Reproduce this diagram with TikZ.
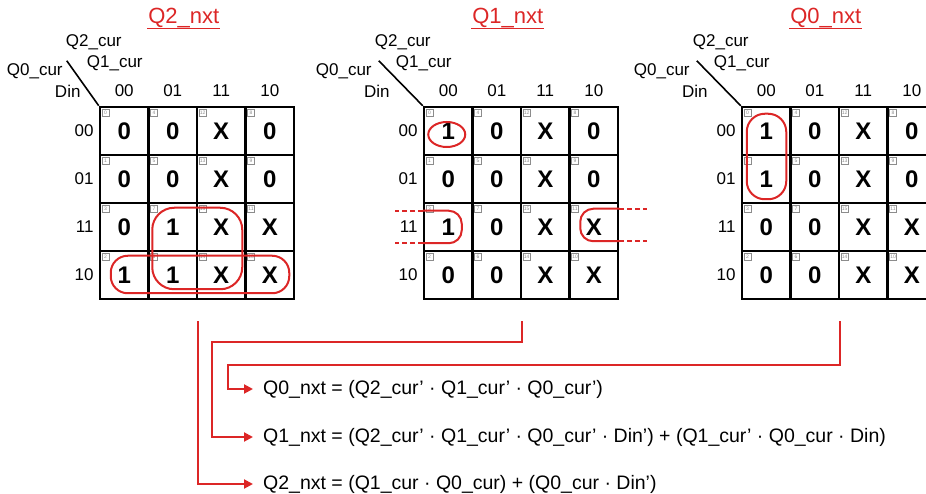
\documentclass[tikz,border=0pt]{standalone}
\usepackage{fontspec}
\setmainfont{Liberation Sans}
\usetikzlibrary{positioning, arrows.meta, calc}
\definecolor{loopred}{HTML}{DC2626}
\definecolor{idxgray}{HTML}{8C8C8C}
\tikzset{
  cell/.style  = {rectangle, draw=black, line width=2.5pt, minimum width=48.5pt,
                  minimum height=48pt, inner sep=0pt, font=\fontsize{24}{24}\selectfont\bfseries},
  idx/.style   = {rectangle, draw=idxgray, line width=0.6pt, inner sep=0.8pt, minimum size=7pt,
                  text=idxgray, font=\fontsize{5}{5}\selectfont, anchor=north west},
  axis/.style  = {font=\fontsize{17}{17}\selectfont, inner sep=1pt},
  title/.style = {font=\fontsize{22}{22}\selectfont, text=loopred, inner sep=1pt},
  grp/.style   = {draw=loopred, line width=2pt},
  wrap/.style  = {draw=loopred, line width=2pt, dash pattern=on 5pt off 3pt},
  feed/.style  = {draw=loopred, line width=2pt, -{Triangle[length=9pt, width=9pt]}},
  eq/.style    = {font=\fontsize{19.5}{20}\selectfont, anchor=west, inner xsep=10pt, inner ysep=2pt},
}

\begin{document}
\begin{tikzpicture}[x=1pt, y=-1pt]
\useasboundingbox (0,0) rectangle (926,494);

% Three K-maps: rows Q0_cur Din, columns Q2_cur Q1_cur
\foreach \m/\x/\sh/\ttl/\vals in {
    A/100/15/Q2/{0,0,X,0, 0,0,X,0, 0,1,X,X, 1,1,X,X},
    B/424/0/Q1/{1,0,X,0, 0,0,X,0, 1,0,X,X, 0,0,X,X},
    C/742/0/Q0/{1,0,X,0, 1,0,X,0, 0,0,X,X, 0,0,X,X}} {
  \foreach \v [count=\k from 0] in \vals {
    \pgfmathtruncatemacro{\r}{div(\k,4)}
    \pgfmathtruncatemacro{\c}{mod(\k,4)}
    \pgfmathtruncatemacro{\gc}{{0,1,3,2}[\c]}
    \pgfmathtruncatemacro{\gr}{{0,1,3,2}[\r]}
    \pgfmathtruncatemacro{\n}{4*\gc+\gr}
    \node (\m-\r-\c) [cell] at (\x+48.5*\c+24.25, 107+48*\r+24) {\v};
    \node (\m-\r-\c-i) [idx] at ($(\m-\r-\c.north west)+(3,3)$) {\n};
  }
  % corner with the variable names
  \coordinate (\m-o) at (\m-0-0.north west);
  \draw [line width=1.6pt] (\m-o) -- ++(-44+0.8*\sh,-45);
  \node (\m-q2) [axis] at ($(\m-o)+(-20+\sh,-63)$) {Q2\_cur};
  \node (\m-q1) [axis] at ($(\m-o)+(1+\sh,-42)$)   {Q1\_cur};
  \node (\m-q0) [axis] at ($(\m-o)+(-79+\sh,-34)$) {Q0\_cur};
  \node (\m-din) [axis] at ($(\m-o)+(-46+\sh,-14)$) {Din};
  \foreach \h [count=\j from 0] in {00,01,11,10} {
    \node (\m-col\j) [axis] at ($(\m-0-\j.north)+(0,-15)$) {\h};
    \node (\m-row\j) [axis, anchor=east] at ($(\m-\j-0.west)+(-4,0)$) {\h};
  }
  \node (\m-ttl) [title] at ($(\m-o)+(85,-88)$) {\ttl\_nxt};
  \draw [loopred, line width=1.3pt] (\m-ttl.south west) -- (\m-ttl.south east);
}

% Groups in Q2_nxt
\draw [grp, rounded corners=22pt] ($(A-2-1.north west)+(5,6)$) rectangle ($(A-3-2.south east)+(-4.5,-11)$);
\draw [grp, rounded corners=17pt] ($(A-3-0.north west)+(12,6)$) rectangle ($(A-3-3.south east)+(-6,-7)$);

% Groups in Q1_nxt, one of them wrapping round the sides
\draw [grp] ($(B-0-0)+(-1.5,3.5)$) ellipse [x radius=18.5, y radius=12.5];
\draw [grp, rounded corners=13pt] ($(B-2-0.north west)+(0,9)$) -- ($(B-2-0.north west)+(39,9)$)
  -- ($(B-2-0.south west)+(39,-9)$) -- ($(B-2-0.south west)+(0,-9)$);
\draw [wrap] ($(B-2-0.north west)+(0,9)$) -- ++(-28,0);
\draw [wrap] ($(B-2-0.south west)+(0,-9)$) -- ++(-28,0);
\draw [grp, rounded corners=13pt] ($(B-2-3.north east)+(0,7)$) -- ($(B-2-3.north east)+(-39,7)$)
  -- ($(B-2-3.south east)+(-39,-11)$) -- ($(B-2-3.south east)+(0,-11)$);
\draw [wrap] ($(B-2-3.north east)+(0,7)$) -- ++(28,0);
\draw [wrap] ($(B-2-3.south east)+(0,-11)$) -- ++(28,0);

% Group in Q0_nxt
\draw [grp, rounded corners=18pt] ($(C-0-0.north west)+(6,8)$) rectangle ($(C-1-0.south east)+(-5.5,-5)$);

% Resulting expressions
\node (eq0) [eq] at (253,389) {Q0\_nxt = (Q2\_cur' · Q1\_cur' · Q0\_cur')};
\node (eq1) [eq] at (253,437) {Q1\_nxt = (Q2\_cur' · Q1\_cur' · Q0\_cur' · Din') + (Q1\_cur' · Q0\_cur · Din)};
\node (eq2) [eq] at (253,484) {Q2\_nxt = (Q1\_cur · Q0\_cur) + (Q0\_cur · Din')};

% Feeds from each map to its expression
\coordinate (A-out) at ($(A-3-1.south east)+(0,21)$);
\coordinate (B-out) at ($(B-3-1.south east)+(0,21)$);
\coordinate (C-out) at ($(C-3-1.south east)+(0,21)$);
\coordinate (kB) at (212,342);
\coordinate (kC) at (228,365);
\draw [feed] (C-out) |- (kC) |- (eq0.west);
\draw [feed] (B-out) |- (kB) |- (eq1.west);
\draw [feed] (A-out) |- (eq2.west);

\end{tikzpicture}
\end{document}
